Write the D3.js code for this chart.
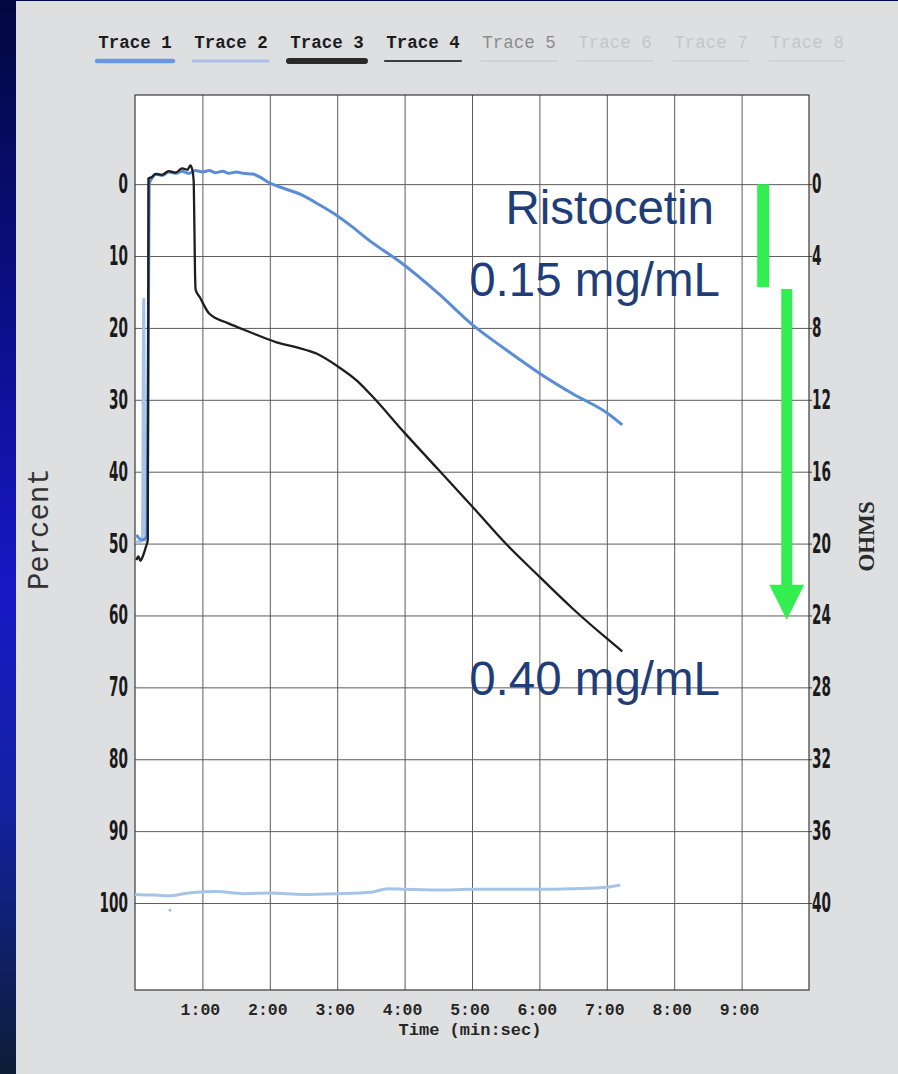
<!DOCTYPE html>
<html>
<head>
<meta charset="utf-8">
<script src="https://cdn.jsdelivr.net/npm/d3@7"></script>
<style>
  html, body { margin: 0; padding: 0; background: #dedfe1; }
  svg { display: block; }
</style>
</head>
<body>
<div id="chart"></div>
<script>
// traces (time in minutes, percent aggregation)
const trace1Time = [0.02, 0.10, 0.18, 0.21, 0.25, 0.32, 0.4, 0.5, 0.6, 0.7, 0.8, 0.9, 1.0, 1.1, 1.2, 1.3, 1.4, 1.5, 1.6, 1.75, 1.85, 1.97, 2.15, 2.45, 2.74, 3.0, 3.19, 3.5, 3.93, 4.5, 5.0, 5.5, 6.0, 6.5, 7.0, 7.23];
const trace1Pct = [48.8, 49.5, 49.0, 0.0, -0.8, -1.4, -1.2, -1.7, -1.5, -1.8, -1.5, -1.9, -1.7, -1.9, -1.6, -1.8, -1.5, -1.7, -1.5, -1.4, -1.0, -0.3, 0.4, 1.4, 2.9, 4.4, 5.7, 8.0, 10.8, 15.2, 19.5, 23.0, 26.3, 29.2, 31.8, 33.5];

const trace2Time = [0.01, 0.11, 0.13, 0.15, 0.17, null, 0.0, 0.3, 0.5, 0.8, 1.2, 1.6, 2.0, 2.5, 3.0, 3.5, 3.75, 4.0, 4.5, 5.0, 5.5, 6.0, 6.5, 7.0, 7.2];
const trace2Pct = [49.8, 49.6, 16.0, 49.4, 49.6, null, 98.8, 98.9, 99.0, 98.6, 98.4, 98.7, 98.6, 98.8, 98.7, 98.5, 98.0, 98.1, 98.2, 98.1, 98.1, 98.1, 98.0, 97.8, 97.5];
const trace2DotTime = [0.52];
const trace2DotPct = [101.0];

const trace3Time = [0.02, 0.05, 0.08, 0.11, 0.16, 0.19, 0.2, 0.25, 0.3, 0.4, 0.5, 0.6, 0.7, 0.78, 0.82, 0.85, 0.87, 0.88, 0.89, 0.9, 0.96, 1.1, 1.37, 1.71, 2.1, 2.4, 2.7, 3.0, 3.3, 3.5, 4.0, 4.5, 5.0, 5.5, 6.0, 6.5, 7.0, 7.23];
const trace3Pct = [52.3, 51.8, 52.4, 51.9, 50.5, 49.5, -0.8, -1.0, -1.4, -1.3, -1.8, -1.6, -2.2, -2.0, -2.6, -2.0, -0.5, 5.0, 12.0, 14.7, 15.7, 18.0, 19.3, 20.6, 22.0, 22.7, 23.6, 25.3, 27.4, 29.3, 34.6, 39.7, 44.8, 50.0, 54.6, 59.1, 63.2, 65.0];

// axes
const percentTicks = [0, 10, 20, 30, 40, 50, 60, 70, 80, 90, 100];
const ohmsTicks = [0, 4, 8, 12, 16, 20, 24, 28, 32, 36, 40];
const timeTicks = [1, 2, 3, 4, 5, 6, 7, 8, 9];
const timeLabels = ["1:00", "2:00", "3:00", "4:00", "5:00", "6:00", "7:00", "8:00", "9:00"];

// legend
const legendNames = ["Trace 1", "Trace 2", "Trace 3", "Trace 4", "Trace 5", "Trace 6", "Trace 7", "Trace 8"];

// annotations (time, percent)
const doseLabels = ["Ristocetin", "0.15 mg/mL", "0.40 mg/mL"];
const doseLabelPct = [5.5, 15.5, 71.0];
const barTime = 9.32, barPct = [0, 14.3];
const arrowTime = 9.67, arrowPct = [14.6, 60.6];

document.addEventListener("DOMContentLoaded", function () {
  const width = 898, height = 1074;
  const left = 135, right = 809, top = 95, bottom = 990;

  const svg = d3.select("#chart").append("svg")
    .attr("width", width)
    .attr("height", height);

  const defs = svg.append("defs");
  const grad = defs.append("linearGradient")
    .attr("id", "band").attr("x1", 0).attr("y1", 0).attr("x2", 0).attr("y2", 1);
  grad.append("stop").attr("offset", "0%").attr("stop-color", "#03073f");
  grad.append("stop").attr("offset", "30%").attr("stop-color", "#0b0f8a");
  grad.append("stop").attr("offset", "55%").attr("stop-color", "#1818c6");
  grad.append("stop").attr("offset", "75%").attr("stop-color", "#1322a0");
  grad.append("stop").attr("offset", "100%").attr("stop-color", "#0c1d36");

  // slide background
  svg.append("rect").attr("x", 0).attr("y", 0).attr("width", width).attr("height", height).attr("fill", "#dedfe1");
  svg.append("rect").attr("x", 0).attr("y", 0).attr("width", width).attr("height", 1).attr("fill", "#05094a");
  svg.append("rect").attr("x", 0).attr("y", 0).attr("width", 16).attr("height", height).attr("fill", "url(#band)");

  const x = d3.scaleLinear().domain([0, 10]).range([left, right]);
  const y = d3.scaleLinear().domain([-12.4, 112.1]).range([top, bottom]);
  const yOhms = d3.scaleLinear().domain([0, 40]).range([y(0), y(100)]);

  // plot area
  svg.append("rect")
    .attr("x", left).attr("y", top)
    .attr("width", right - left).attr("height", bottom - top)
    .attr("fill", "#ffffff");

  // gridlines
  svg.append("g")
    .attr("transform", `translate(${left},0)`)
    .call(d3.axisLeft(y).tickValues(percentTicks).tickSize(-(right - left)).tickFormat(""))
    .call(g => g.select(".domain").remove())
    .call(g => g.selectAll("line").attr("stroke", "#5c5c5c"));

  svg.append("g")
    .attr("transform", `translate(0,${bottom})`)
    .call(d3.axisBottom(x).tickValues(timeTicks).tickSize(-(bottom - top)).tickFormat(""))
    .call(g => g.select(".domain").remove())
    .call(g => g.selectAll("line").attr("stroke", "#5c5c5c"));

  svg.append("rect")
    .attr("x", left).attr("y", top)
    .attr("width", right - left).attr("height", bottom - top)
    .attr("fill", "none").attr("stroke", "#3a3a3a").attr("stroke-width", 1.2);

  // small outside ticks on the ohms axis
  svg.append("g")
    .attr("transform", `translate(${right},0)`)
    .call(d3.axisRight(yOhms).tickValues(ohmsTicks).tickSize(3).tickFormat(""))
    .call(g => g.select(".domain").remove())
    .call(g => g.selectAll("line").attr("stroke", "#3a3a3a"));

  const numFont = "'DejaVu Sans Condensed', 'DejaVu Sans', sans-serif";

  // left percent labels (tall narrow digits)
  svg.append("g").selectAll("text")
    .data(percentTicks)
    .enter().append("text")
    .attr("transform", d => `translate(128,${y(d) + 9}) scale(0.56,1)`)
    .attr("text-anchor", "end")
    .attr("font-family", numFont)
    .attr("font-weight", "bold")
    .attr("font-size", 27)
    .attr("fill", "#1a1a1a")
    .text(d => d);

  // right ohms labels
  svg.append("g").selectAll("text")
    .data(ohmsTicks)
    .enter().append("text")
    .attr("transform", d => `translate(812,${yOhms(d) + 9}) scale(0.56,1)`)
    .attr("font-family", numFont)
    .attr("font-weight", "bold")
    .attr("font-size", 27)
    .attr("fill", "#1a1a1a")
    .text(d => d);

  const monoFont = "'Liberation Mono', 'DejaVu Sans Mono', monospace";

  // time labels
  svg.append("g").selectAll("text")
    .data(timeTicks)
    .enter().append("text")
    .attr("x", d => x(d) - 2)
    .attr("y", 1015)
    .attr("text-anchor", "middle")
    .attr("font-family", monoFont)
    .attr("font-weight", "bold")
    .attr("font-size", 16.5)
    .attr("fill", "#262626")
    .text((d, i) => timeLabels[i]);

  svg.append("text")
    .attr("x", x(5) - 2).attr("y", 1035)
    .attr("text-anchor", "middle")
    .attr("font-family", monoFont)
    .attr("font-weight", "bold")
    .attr("font-size", 17)
    .attr("fill", "#262626")
    .text("Time (min:sec)");

  svg.append("text")
    .attr("transform", `translate(48,${y(48)}) rotate(-90)`)
    .attr("text-anchor", "middle")
    .attr("font-family", monoFont)
    .attr("font-size", 29)
    .attr("fill", "#333333")
    .text("Percent");

  svg.append("text")
    .attr("transform", `translate(874,${y(49)}) rotate(-90)`)
    .attr("text-anchor", "middle")
    .attr("font-family", "'Liberation Serif', 'DejaVu Serif', serif")
    .attr("font-weight", "bold")
    .attr("font-size", 23)
    .attr("fill", "#2a2a2a")
    .text("OHMS");

  // legend
  const legendColor = ["#1c1c1c", "#1c1c1c", "#1c1c1c", "#1c1c1c", "#8c8c8c", "#c6c6c6", "#c6c6c6", "#c6c6c6"];
  const legendStroke = ["#6b97de", "#a7c2e6", "#2a2a2a", "#3a3a3a", "#cdcdcd", "#d0d0d0", "#d0d0d0", "#d0d0d0"];
  const legendWidth = [4.5, 3, 6, 2, 1.5, 1.5, 1.5, 1.5];
  const legendDash = [null, "3,1", null, "2,1", null, null, null, null];

  const legend = svg.append("g").selectAll("g")
    .data(legendNames)
    .enter().append("g")
    .attr("transform", (d, i) => `translate(${135 + i * 96},0)`);

  legend.append("text")
    .attr("y", 48)
    .attr("text-anchor", "middle")
    .attr("font-family", monoFont)
    .attr("font-weight", (d, i) => i < 4 ? "bold" : "normal")
    .attr("font-size", 17.5)
    .attr("fill", (d, i) => legendColor[i])
    .text(d => d);

  legend.append("line")
    .attr("x1", -38).attr("x2", 38)
    .attr("y1", 61).attr("y2", 61)
    .attr("stroke", (d, i) => legendStroke[i])
    .attr("stroke-width", (d, i) => legendWidth[i])
    .attr("stroke-dasharray", (d, i) => legendDash[i])
    .attr("stroke-linecap", "round");

  // traces
  const line = d3.line()
    .defined(d => d[0] !== null)
    .curve(d3.curveMonotoneX)
    .x(d => x(d[0]))
    .y(d => y(d[1]));

  const plot = svg.append("g");

  plot.append("path")
    .datum(d3.zip(trace2Time, trace2Pct))
    .attr("d", line)
    .attr("fill", "none")
    .attr("stroke", "#a6c4e8")
    .attr("stroke-width", 3)
    .attr("stroke-linejoin", "round");

  plot.selectAll("circle.dot")
    .data(d3.zip(trace2DotTime, trace2DotPct))
    .enter().append("circle")
    .attr("class", "dot")
    .attr("cx", d => x(d[0]))
    .attr("cy", d => y(d[1]))
    .attr("r", 1.5)
    .attr("fill", "#a6c4e8");

  plot.append("path")
    .datum(d3.zip(trace1Time, trace1Pct))
    .attr("d", line)
    .attr("fill", "none")
    .attr("stroke", "#5b8dd5")
    .attr("stroke-width", 3)
    .attr("stroke-linejoin", "round");

  plot.append("path")
    .datum(d3.zip(trace3Time, trace3Pct))
    .attr("d", line)
    .attr("fill", "none")
    .attr("stroke", "#1e1e1e")
    .attr("stroke-width", 2.3)
    .attr("stroke-linejoin", "round");

  // green markers
  svg.append("line")
    .attr("x1", x(barTime)).attr("x2", x(barTime))
    .attr("y1", y(barPct[0])).attr("y2", y(barPct[1]))
    .attr("stroke", "#33ee50").attr("stroke-width", 12);

  const ax = x(arrowTime), ay0 = y(arrowPct[0]), ay1 = y(arrowPct[1]);
  svg.append("line")
    .attr("x1", ax).attr("x2", ax)
    .attr("y1", ay0).attr("y2", ay1 - 34)
    .attr("stroke", "#33ee50").attr("stroke-width", 11);
  svg.append("path")
    .attr("d", `M${ax - 17.5},${ay1 - 35} L${ax + 17.5},${ay1 - 35} L${ax},${ay1} Z`)
    .attr("fill", "#33ee50");

  // dose labels
  svg.append("g").selectAll("text")
    .data(doseLabels)
    .enter().append("text")
    .attr("x", (d, i) => i === 0 ? 714 : 720)
    .attr("y", (d, i) => y(doseLabelPct[i]))
    .attr("text-anchor", "end")
    .attr("font-family", "'Liberation Sans', Arial, sans-serif")
    .attr("font-size", 47.5)
    .attr("fill", "#1f3d78")
    .text(d => d);
});
</script>
</body>
</html>
